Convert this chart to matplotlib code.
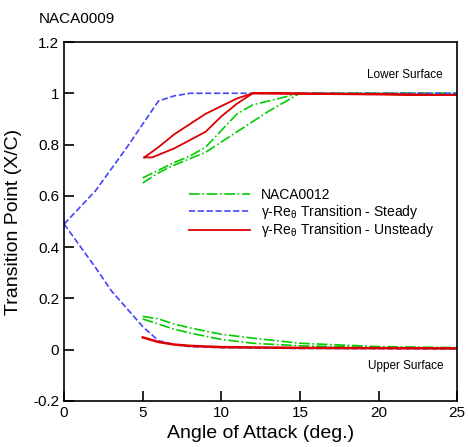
import numpy as np
import matplotlib.pyplot as plt

plt.rcParams['font.family'] = ['Liberation Sans', 'DejaVu Sans']
plt.rcParams['mathtext.fontset'] = 'custom'
plt.rcParams['mathtext.rm'] = 'Liberation Sans'
plt.rcParams['mathtext.it'] = 'Liberation Sans:italic'

# gamma-Re_theta steady, lower / upper surface
steady_lo_a = [0, 2, 4, 5, 6, 7, 8, 10, 15, 20, 25]
steady_lo_x = [0.49, 0.62, 0.79, 0.88, 0.97, 0.99, 1.0, 1.0, 1.0, 1.0, 1.0]
steady_up_a = [0, 2, 3, 4, 5, 6, 7, 8, 10, 15, 20, 25]
steady_up_x = [0.49, 0.32, 0.23, 0.16, 0.09, 0.035, 0.02, 0.012, 0.008, 0.005, 0.004, 0.003]

# gamma-Re_theta unsteady (hysteresis loop)
unst_lo_a = [5.1, 5.6, 7, 9, 10, 11, 12, 15, 20, 25, 20, 15, 12, 11, 10, 9, 8, 7, 6, 5.1]
unst_lo_x = [0.75, 0.75, 0.785, 0.85, 0.91, 0.96, 1.0, 0.998, 0.995, 0.993,
             0.997, 1.0, 1.0, 0.98, 0.95, 0.92, 0.88, 0.84, 0.79, 0.75]
unst_up_a = [5, 6, 7, 8, 10, 15, 20, 25]
unst_up_x = [0.048, 0.03, 0.02, 0.015, 0.01, 0.007, 0.006, 0.005]

# NACA0012 reference data (two branches)
n12_lo_a = [5, 6, 7, 8, 9, 10, 11, 12, 13, 14, 15, 20, 25]
n12_lo_x1 = [0.67, 0.70, 0.73, 0.755, 0.79, 0.855, 0.92, 0.955, 0.97, 0.985, 1.0, 1.0, 1.0]
n12_lo_x2 = [0.65, 0.69, 0.72, 0.745, 0.77, 0.81, 0.85, 0.89, 0.93, 0.965, 1.0, 1.0, 1.0]
n12_up_a = [5, 6, 7, 8, 10, 12, 15, 20, 25]
n12_up_x1 = [0.13, 0.12, 0.10, 0.085, 0.06, 0.045, 0.025, 0.012, 0.008]
n12_up_x2 = [0.12, 0.10, 0.08, 0.065, 0.04, 0.025, 0.015, 0.008, 0.005]

green = '#00cc00'
blue = '#4444ff'
red = '#dd0000'

fig = plt.figure(figsize=(4.68, 4.47), dpi=100)
ax = fig.add_axes([0.137, 0.103, 0.84, 0.803])

ax.plot(n12_lo_a, n12_lo_x1, color=green, ls='-.', lw=1.2, label='NACA0012')
ax.plot(n12_lo_a, n12_lo_x2, color=green, ls='-.', lw=1.2)
ax.plot(n12_up_a, n12_up_x1, color=green, ls='-.', lw=1.2)
ax.plot(n12_up_a, n12_up_x2, color=green, ls='-.', lw=1.2)

ax.plot(steady_lo_a, steady_lo_x, color=blue, ls='--', lw=1.2,
        label=r'γ-Re$_\mathrm{θ}$ Transition - Steady')
ax.plot(steady_up_a, steady_up_x, color=blue, ls='--', lw=1.2)

ax.plot(unst_lo_a, unst_lo_x, color=red, ls='-', lw=1.3,
        label=r'γ-Re$_\mathrm{θ}$ Transition - Unsteady')
ax.plot(unst_up_a, unst_up_x, color=red, ls='-', lw=1.8)

ax.set_xlim(0, 25)
ax.set_ylim(-0.2, 1.2)
ax.set_xticks([0, 5, 10, 15, 20, 25])
ax.set_yticks([-0.2, 0, 0.2, 0.4, 0.6, 0.8, 1.0, 1.2])
ax.set_yticklabels(['-0.2', '0', '0.2', '0.4', '0.6', '0.8', '1', '1.2'])
ax.tick_params(direction='in', length=7, width=1.2, labelsize=11, top=False, right=False)
for s in ax.spines.values():
    s.set_linewidth(1.2)

ax.set_xlabel('Angle of Attack (deg.)', fontsize=14, labelpad=4)
ax.set_ylabel('Transition Point (X/C)', fontsize=14, labelpad=8)

ax.text(19.25, 1.06, 'Lower Surface', fontsize=8.5)
ax.text(19.3, -0.075, 'Upper Surface', fontsize=8.5)
fig.text(0.083, 0.948, 'NACA0009', fontsize=11)

ax.legend(loc='upper left', bbox_to_anchor=(0.285, 0.628), frameon=False,
          fontsize=10, handlelength=4.4, labelspacing=0.05, handletextpad=0.8)

fig.savefig('out.png', dpi=100)
